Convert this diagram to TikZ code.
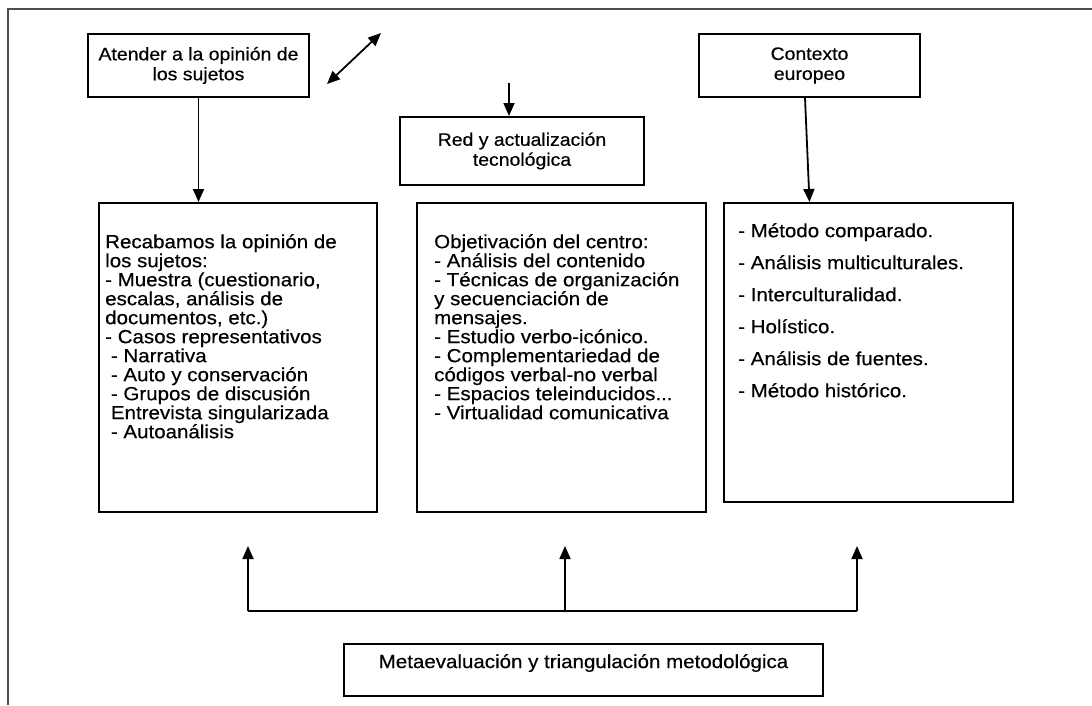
\documentclass[tikz,border=0pt]{standalone}
\usepackage{fontspec}
\setmainfont{Liberation Sans}[FakeStretch=1.08,FakeBold=0.4]
\usetikzlibrary{arrows.meta}

\begin{document}
\begin{tikzpicture}[x=1pt,y=-1pt,
  caja/.style={draw,line width=2pt,inner sep=0pt},
  texto/.style={inner sep=0pt,align=left,anchor=north west,font=\fontsize{19}{19}\selectfont},
  titulo/.style={inner sep=0pt,align=center,font=\fontsize{18}{20}\selectfont},
  flecha/.style={line width=1.8pt,-{Triangle[length=13pt,width=11pt]}},
  dobleflecha/.style={line width=1.8pt,{Triangle[length=13pt,width=11pt]}-{Triangle[length=13pt,width=11pt]}}]
\useasboundingbox (0,0) rectangle (1092,705);
\draw[line width=1.8pt,gray!60!black] (8,705) -- (8,9) -- (1092,9);

% recuadros de arriba
\node[caja,minimum width=221pt,minimum height=63pt] (atender) at (198.5,65.5) {};
\node[titulo] (atendertxt) at (atender) {Atender a la opinión de\\los sujetos};
\node[caja,minimum width=244pt,minimum height=68pt] (red) at (522,151) {};
\node[titulo] (redtxt) at (red) {Red y actualización\\tecnológica};
\node[caja,minimum width=221pt,minimum height=63pt] (contexto) at (809.5,65.5) {};
\node[titulo] (contextotxt) at (contexto) {Contexto\\europeo};

% recuadros grandes
\node[caja,minimum width=278pt,minimum height=309pt] (recab) at (238,357.5) {};
\node[texto] (recabtxt) at (105,234) {Recabamos la opinión de\\los sujetos:\\- Muestra (cuestionario,\\escalas, análisis de\\documentos, etc.)\\- Casos representativos\\\ - Narrativa\\\ - Auto y conservación\\\ - Grupos de discusión\\\ Entrevista singularizada\\\ - Autoanálisis};
\node[caja,minimum width=289pt,minimum height=309pt] (objet) at (561.5,357.5) {};
\node[texto] (objettxt) at (434,234) {Objetivación del centro:\\- Análisis del contenido\\- Técnicas de organización\\y secuenciación de\\mensajes.\\- Estudio verbo-icónico.\\- Complementariedad de\\códigos verbal-no verbal\\- Espacios teleinducidos...\\- Virtualidad comunicativa};
\node[caja,minimum width=289pt,minimum height=299pt] (metodo) at (868.5,352.5) {};
\node[texto,font=\fontsize{19}{32}\selectfont] (metodotxt) at (738,223) {- Método comparado.\\- Análisis multiculturales.\\- Interculturalidad.\\- Holístico.\\- Análisis de fuentes.\\- Método histórico.};

% recuadro de abajo
\node[caja,minimum width=479pt,minimum height=52pt] (meta) at (583.5,670) {};
\node[titulo,font=\fontsize{19}{20}\selectfont] (metatxt) at (583.5,663) {Metaevaluación y triangulación metodológica};

% flechas
\draw[flecha] (atender.south) -- (atender.south |- recab.north);
\draw[flecha] ([xshift=-4.5pt]contexto.south) -- (contexto.south |- metodo.north);
\coordinate (redarriba) at (509,83);
\draw[flecha] (redarriba) -- (redarriba |- red.north);
\coordinate (da) at (327,84);
\coordinate (db) at (381,33);
\draw[dobleflecha] (da) -- (db);

\coordinate (b1) at (248,611);
\coordinate (b2) at (565,611);
\coordinate (b3) at (857,611);
\draw[line width=1.8pt] (b1) -- (b3);
\foreach \p in {b1,b2,b3}
  \draw[flecha] (\p) -- ++(0,-65);
\end{tikzpicture}
\end{document}
